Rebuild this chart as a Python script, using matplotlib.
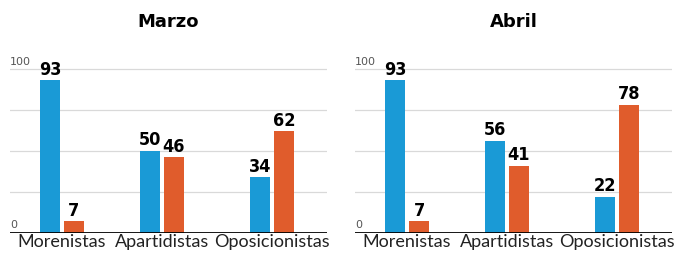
import matplotlib.pyplot as plt
import numpy as np

categories = ['Morenistas', 'Apartidistas', 'Oposicionistas']
months = ['Marzo', 'Abril']
blue_vals = {'Marzo': [93, 50, 34], 'Abril': [93, 56, 22]}
orange_vals = {'Marzo': [7, 46, 62], 'Abril': [7, 41, 78]}

BLUE = '#1a9ad6'
ORANGE = '#e05c2c'

fig = plt.figure(figsize=(6.93, 2.58), dpi=100)
x = np.array([0, 1, 2.1])
w = 0.2
lefts = [10 / 693, 355 / 693]

for month, left in zip(months, lefts):
    ax = fig.add_axes([left, 0.097, 317 / 693, 0.70])
    b1 = ax.bar(x - 0.12, blue_vals[month], width=w, color=BLUE, zorder=3)
    b2 = ax.bar(x + 0.12, orange_vals[month], width=w, color=ORANGE, zorder=3)
    for bars in (b1, b2):
        for b in bars:
            ax.text(b.get_x() + b.get_width() / 2, b.get_height() + 1,
                    f'{b.get_height():.0f}', ha='center', va='bottom',
                    fontsize=13, fontweight='bold', fontstretch='condensed')
    ax.set_xlim(-0.52, 2.65)
    ax.set_ylim(0, 110)
    for v in [25, 50, 75, 100]:
        ax.axhline(v, color='#d9d9d9', lw=0.9, zorder=1)
    ax.axhline(0, color='black', lw=2, zorder=4)
    ax.text(-0.52, 101, '100', fontsize=8, color='#555555', ha='left', va='bottom')
    ax.text(-0.52, 2, '0', fontsize=8, color='#555555', ha='left', va='bottom')
    for s in ax.spines.values():
        s.set_visible(False)
    ax.set_yticks([])
    ax.set_xticks(x)
    ax.set_xticklabels(categories, fontsize=13, fontfamily='Lato',
                       fontweight='normal', color='#222222')
    ax.tick_params(axis='x', length=0, pad=1)
    ax.set_title(month, fontsize=13, fontweight='bold', pad=18)

fig.savefig('out.png', dpi=100)
